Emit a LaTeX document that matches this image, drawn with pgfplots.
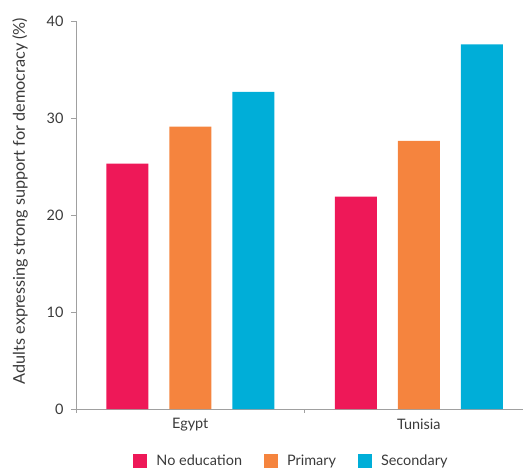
\documentclass[border=0pt]{standalone}
\usepackage{fontspec}
\setmainfont{Lato}
\usepackage{pgfplots}
\pgfplotsset{compat=1.18}
\definecolor{cpink}{HTML}{EE1858}
\definecolor{corange}{HTML}{F5843E}
\definecolor{ccyan}{HTML}{00AED8}
\definecolor{ctext}{HTML}{3A3A3A}
\definecolor{caxis}{HTML}{A0A0A0}
\begin{document}
\begin{tikzpicture}
\useasboundingbox (-76bp,-60bp) rectangle (448bp,409bp);
\begin{axis}[
  at={(0,0)}, anchor=south west,
  scale only axis,
  width=447bp, height=388bp,
  ybar=21bp, bar width=42bp,
  xmin=-0.5, xmax=1.456,
  ymin=0, ymax=40,
  ytick={0,10,20,30,40},
  xtick={0,1},
  xticklabels={Egypt,Tunisia},
  minor xtick={-0.5,0.5,1.5},
  major x tick style={draw=none},
  minor x tick style={caxis, thin},
  minor tick length=4bp,
  ytick style={caxis, thin},
  major tick length=5bp,
  tick align=outside,
  axis lines*=left,
  axis line style={caxis, thin},
  tick label style={font=\fontsize{14.5}{16}\selectfont, text=ctext},
  /pgf/number format/assume math mode=true,
  yticklabel style={xshift=-4bp},
  xticklabel style={yshift=-1bp},
  ylabel={Adults expressing strong support for democracy (\%)},
  ylabel style={at={(axis description cs:-0.125,0.536)}, anchor=center, font=\fontsize{16.3}{18}\selectfont, text=ctext},
  legend style={at={(axis description cs:0.482,-0.134)}, anchor=center, draw=none, fill=none,
    legend columns=3, font=\fontsize{14.5}{16}\selectfont, text=ctext,
    /tikz/every even column/.append style={column sep=20bp},
    /tikz/every odd column/.append style={column sep=7bp}},
  legend image code/.code={\path[#1] (0bp,-7bp) rectangle (14bp,7bp);},
  every axis plot/.append style={draw=none},
  clip=false,
]
\addplot[fill=cpink] coordinates {(0,25.3) (1,21.9)};
\addplot[fill=corange] coordinates {(0,29.1) (1,27.65)};
\addplot[fill=ccyan] coordinates {(0,32.7) (1,37.6)};
\legend{No education, Primary, Secondary}
\end{axis}
\end{tikzpicture}
\end{document}
